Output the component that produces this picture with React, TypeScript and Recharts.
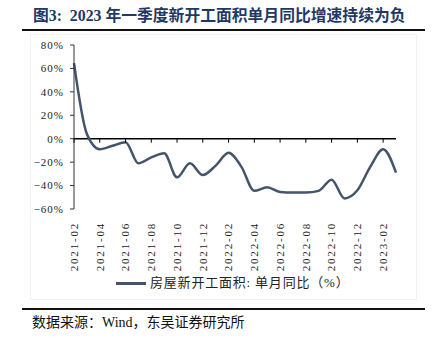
import React from 'react';
import { ComposedChart, Line, XAxis, YAxis, ReferenceLine, ReferenceDot } from 'recharts';

const months: string[] = [
  '2021-02', '2021-03', '2021-04', '2021-05', '2021-06', '2021-07', '2021-08', '2021-09',
  '2021-10', '2021-11', '2021-12', '2022-01', '2022-02', '2022-03', '2022-04', '2022-05',
  '2022-06', '2022-07', '2022-08', '2022-09', '2022-10', '2022-11', '2022-12', '2023-01',
  '2023-02', '2023-03',
];
const yoy: number[] = [
  64.5, 4, -9, -6, -3, -21, -16, -12.5,
  -33, -21, -31, -23, -12, -24, -44.5, -41.5,
  -45.5, -46, -46, -44.5, -35, -51, -44, -24,
  -9, -29,
];
const yTicks: number[] = [-60, -40, -20, 0, 20, 40, 60, 80];
const seriesName = '房屋新开工面积: 单月同比（%）';
const titleText = '图3:  2023 年一季度新开工面积单月同比增速持续为负';
const sourceText = '数据来源：Wind，东吴证券研究所';

const data = months.map((m, i) => ({ month: m, value: yoy[i] }));
const tickMonths = months.filter((_, i) => i % 2 === 0);

const SERIF = '"Liberation Serif", "DejaVu Serif", "Noto Sans CJK SC", serif';
const CJK = '"Liberation Serif", "Noto Sans CJK SC", serif';
const LINE_COLOR = '#44546A';

const XTick = (props: any) => {
  const { x, y, payload } = props;
  return (
    <text
      x={0}
      y={0}
      transform={`translate(${x},${y}) rotate(-90)`}
      textAnchor="end"
      dy="0.35em"
      fontSize={11}
      fontFamily={SERIF}
      letterSpacing={1.8}
      fill="#222"
    >
      {payload.value}
    </text>
  );
};

const fmtY = (v: number) => (v < 0 ? '−' + Math.abs(v) : String(v)) + '%';

const TickMark = (props: any) => {
  const { cx, cy } = props;
  return <line x1={cx} x2={cx} y1={cy} y2={cy + 4} stroke="#000" strokeWidth={1} />;
};

export default function App() {
  return (
    <div style={{ position: 'absolute', left: 0, top: 0, width: 432, height: 341, background: '#fff', overflow: 'hidden' }}>
      <div style={{ position: 'absolute', left: 30, top: 34, width: 385, height: 264, border: '1px solid #f2f2f2' }} />
      <div
        style={{
          position: 'absolute', left: 33, top: 6, whiteSpace: 'pre', fontFamily: CJK, fontWeight: 700,
          fontSize: 15.8, color: '#1F3864', lineHeight: '20px',
        }}
      >
        {titleText}
      </div>
      <div style={{ position: 'absolute', left: 22, top: 29, width: 403, height: 2, background: '#111' }} />
      <div style={{ position: 'absolute', left: 0, top: 0 }}>
        <ComposedChart width={432} height={341} data={data} margin={{ top: 45, right: 36, bottom: 72, left: 0 }}>
          <XAxis
            dataKey="month"
            type="category"
            scale="point"
            interval={1}
            axisLine={false}
            tickLine={false}
            height={60}
            tick={<XTick />}
            tickMargin={7}
          />
          <YAxis
            type="number"
            domain={[-60, 80]}
            ticks={yTicks}
            width={74}
            tickSize={4}
            tickMargin={6}
            axisLine={{ stroke: '#333', strokeWidth: 1 }}
            tickLine={{ stroke: '#333' }}
            tickFormatter={fmtY}
            tick={{ fontSize: 11, fontFamily: SERIF, fill: '#222', letterSpacing: 1 }}
          />
          <ReferenceLine y={0} stroke="#000" strokeWidth={1.5} />
          {tickMonths.map((m) => (
            <ReferenceDot key={m} x={m} y={0} r={0} shape={<TickMark />} />
          ))}
          <Line
            type="monotone"
            dataKey="value"
            stroke={LINE_COLOR}
            strokeWidth={2.5}
            dot={false}
            isAnimationActive={false}
          />
        </ComposedChart>
      </div>
      <div style={{ position: 'absolute', left: 116, top: 282, width: 30, height: 2.5, background: LINE_COLOR }} />
      <div
        style={{
          position: 'absolute', left: 150, top: 274, whiteSpace: 'pre', fontFamily: CJK, fontSize: 13,
          color: '#222', lineHeight: '18px', letterSpacing: 0.8,
        }}
      >
        {seriesName}
      </div>
      <div style={{ position: 'absolute', left: 22, top: 308, width: 403, height: 2, background: '#111' }} />
      <div
        style={{
          position: 'absolute', left: 32, top: 313, whiteSpace: 'pre', fontFamily: CJK, fontSize: 14,
          color: '#111', lineHeight: '20px',
        }}
      >
        {sourceText}
      </div>
    </div>
  );
}
